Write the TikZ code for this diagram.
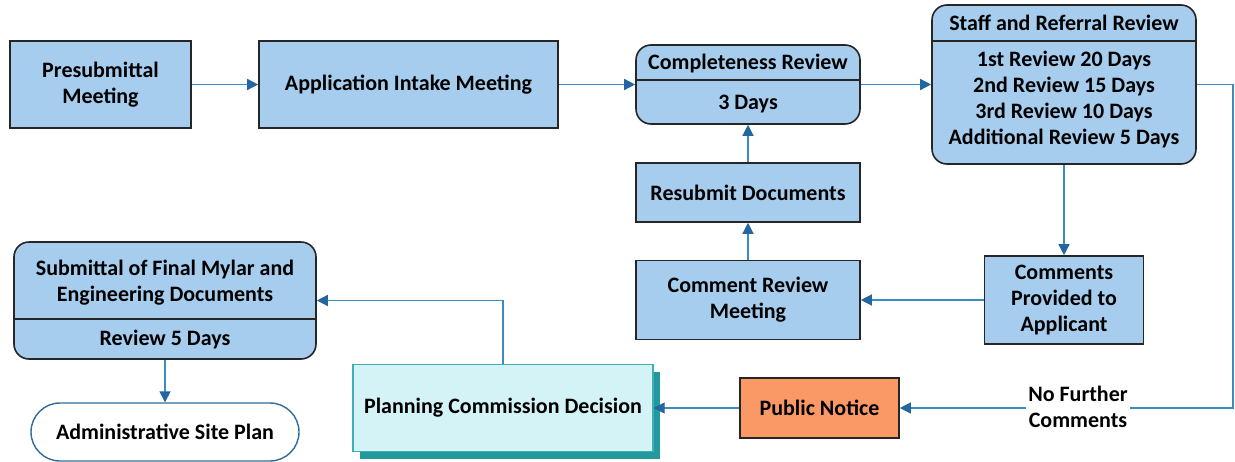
\documentclass[tikz,border=0pt]{standalone}
\usepackage{fontspec}
\setmainfont{Carlito}
\usetikzlibrary{arrows.meta,shadows}
\definecolor{boxblue}{HTML}{A6CDEE}
\definecolor{boxline}{HTML}{262626}
\definecolor{connc}{HTML}{3A8CC4}
\definecolor{tipc}{HTML}{2466A0}
\definecolor{orangef}{HTML}{FA9965}
\definecolor{cyanf}{HTML}{D4F3F6}
\definecolor{cyanl}{HTML}{41AEB6}
\definecolor{shadowc}{HTML}{22999D}
\definecolor{pillline}{HTML}{2F6C9C}
\begin{document}
\begin{tikzpicture}[x=1pt,y=-1pt,
  font=\fontsize{22}{26}\selectfont\bfseries,
  box/.style={draw=boxline, line width=1.6pt, fill=boxblue, inner sep=0pt, align=center},
  rbox/.style={box, rounded corners=15pt},
  txt/.style={inner sep=0pt, align=center},
  divider/.style={draw=boxline, line width=1.6pt},
  conn/.style={draw=connc, line width=1.4pt, -{Triangle[length=11pt,width=11pt,color=tipc]}},
]
\fill[white] (0,0) rectangle (1235,461);
\useasboundingbox (0,0) rectangle (1235,461);

% top row
\node[box, minimum width=181pt, minimum height=87pt] (pre) at (100.5,84.5) {Presubmittal\\Meeting};
\node[box, minimum width=299pt, minimum height=87pt] (app) at (408.5,84.5) {Application Intake Meeting};

% completeness review
\node[rbox, minimum width=224pt, minimum height=79pt] (cr) at (748,84.5) {};
\node[txt] (crt) at (748,64) {Completeness Review};
\node[txt] (crd) at (748,104) {3 Days};
\coordinate (d1) at (0,80);
\draw[divider] (cr.west |- d1) -- (cr.east |- d1);

% staff and referral review
\node[rbox, minimum width=264pt, minimum height=159pt] (staff) at (1064,84.5) {};
\node[txt] (stt) at (1064,23) {Staff and Referral Review};
\node[txt] (std) at (1064,100) {1st Review 20 Days\\2nd Review 15 Days\\3rd Review 10 Days\\Additional Review 5 Days};
\coordinate (d2) at (0,41);
\draw[divider] (staff.west |- d2) -- (staff.east |- d2);

% middle
\node[box, minimum width=224pt, minimum height=59pt] (rs) at (748,192.5) {Resubmit Documents};
\node[box, minimum width=224pt, minimum height=79pt] (crm) at (748,300) {Comment Review\\Meeting};
\node[box, minimum width=159pt, minimum height=88pt] (cpa) at (1064,300) {Comments\\Provided to\\Applicant};

% submittal
\node[rbox, minimum width=302pt, minimum height=117pt] (sub) at (165,300.5) {};
\node[txt] (subt) at (165,283) {Submittal of Final Mylar and\\Engineering Documents};
\node[txt] (subd) at (165,340) {Review 5 Days};
\coordinate (d3) at (0,319);
\draw[divider] (sub.west |- d3) -- (sub.east |- d3);

% bottom row
\node[draw=pillline, line width=1.4pt, fill=white, rounded corners=29pt, minimum width=268pt, minimum height=58pt, inner sep=0pt] (asp) at (165,432) {Administrative Site Plan};
\node[draw=cyanl, line width=1.4pt, fill=cyanf, minimum width=300pt, minimum height=87pt, inner sep=0pt,
  drop shadow={shadow xshift=7pt, shadow yshift=-7pt, fill=shadowc, opacity=1}] (pcd) at (503,408) {Planning Commission Decision};
\node[draw=boxline, line width=1.6pt, fill=orangef, minimum width=159pt, minimum height=60pt, inner sep=0pt] (pn) at (819.5,408) {Public Notice};

% connectors
\draw[conn] (pre) -- (app);
\draw[conn] (app) -- (cr);
\draw[conn] (cr) -- (staff);
\draw[conn] (staff.south) -- (cpa.north);
\draw[conn] (cpa) -- (crm);
\draw[conn] (crm) -- (rs);
\draw[conn] (rs) -- (cr);
\coordinate (rc) at (1233,408);
\draw[conn] (staff.east) -| (rc) -- (pn.east);
\node[txt, fill=white, inner sep=2pt] (nfc) at (1078,407) {No Further\\Comments};
\draw[conn] (pn) -- (pcd);
\draw[conn] (pcd.north) |- (sub.east);
\draw[conn] (sub.south) -- (asp.north);
\end{tikzpicture}
\end{document}
